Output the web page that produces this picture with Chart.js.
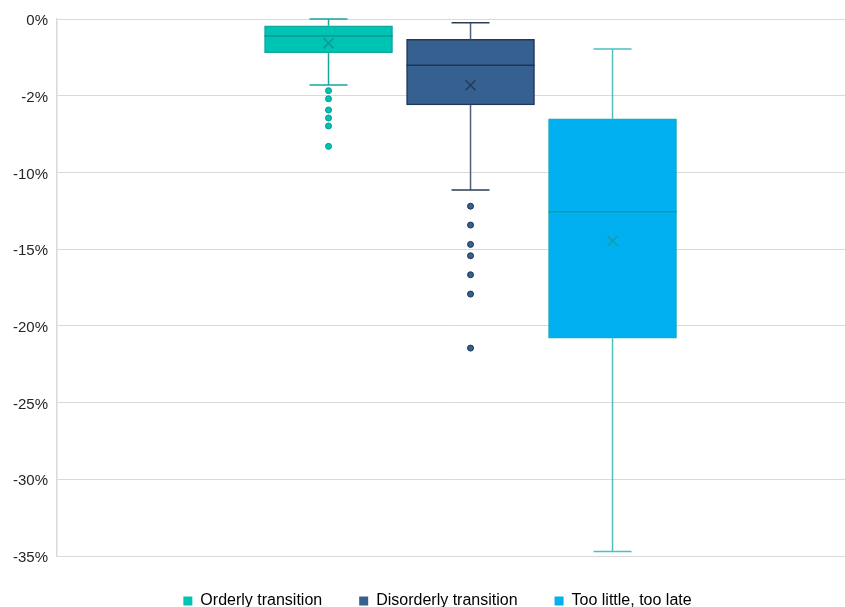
<!DOCTYPE html>
<html>
<head>
<meta charset="utf-8">
<script src="https://cdn.jsdelivr.net/npm/chart.js@4.4.1/dist/chart.umd.min.js"></script>
<style>
  html, body { margin: 0; padding: 0; background: #fff; }
  #wrap { width: 845px; height: 607px; }
</style>
</head>
<body>
<div id="wrap"><canvas id="boxChart"></canvas></div>
<script>
// values in percent
const seriesNames = ['Orderly transition', 'Disorderly transition', 'Too little, too late'];
const seriesPos = [1, 2, 3];
const whiskerMax = [0.0, -0.24, -1.96];
const q3Values = [-0.44, -1.33, -6.5];
const medianValues = [-1.1, -3.02, -12.56];
const meanValues = [-1.58, -4.32, -14.47];
const q1Values = [-2.2, -5.6, -20.8];
const whiskerMin = [-4.3, -11.15, -34.7];
const outlierOrderly = [-4.67, -5.2, -5.93, -6.45, -6.97, -8.3];
const outlierDisorderly = [-12.2, -13.43, -14.69, -15.43, -16.67, -17.93, -21.45];
const outlierTooLate = [];
const yTicks = [0, -5, -10, -15, -20, -25, -30, -35];
const yTickLabels = ['0%', '-2%', '-10%', '-15%', '-20%', '-25%', '-30%', '-35%'];

const fillColors = ['#00C4B3', '#36608F', '#00B0F0'];
const borderColors = ['#0FA89D', '#22395A', '#1AABB5'];
const medianColors = ['#0E978D', '#1E3452', '#0E9AA6'];
const whiskerColors = ['#1AA59B', '#4F6079', '#4EC0BF'];
const meanColors = ['#0E978D', '#22395A', '#169E9F'];

const outlierSets = [outlierOrderly, outlierDisorderly, outlierTooLate];

const boxExtras = {
  id: 'boxExtras',
  afterLayout(chart) {
    // legend sits a little right of centre in the original
    chart.legend.left += 15;
    chart.legend.right += 15;
  },
  afterDatasetsDraw(chart) {
    const { ctx, scales: { x, y } } = chart;
    seriesPos.forEach((pos, i) => {
      const cx = x.getPixelForValue(pos);
      const bar = chart.getDatasetMeta(i).data[0];
      const half = bar.width / 2;
      const capHalf = 19;
      ctx.save();
      ctx.lineWidth = 1.5;
      ctx.strokeStyle = whiskerColors[i];
      ctx.beginPath();
      ctx.moveTo(cx, y.getPixelForValue(q3Values[i]));
      ctx.lineTo(cx, y.getPixelForValue(whiskerMax[i]));
      ctx.moveTo(cx, y.getPixelForValue(q1Values[i]));
      ctx.lineTo(cx, y.getPixelForValue(whiskerMin[i]));
      ctx.stroke();

      ctx.strokeStyle = i === 1 ? '#2C3E55' : whiskerColors[i];
      ctx.beginPath();
      const top = y.getPixelForValue(whiskerMax[i]);
      const bottom = y.getPixelForValue(whiskerMin[i]);
      ctx.moveTo(cx - capHalf, top);
      ctx.lineTo(cx + capHalf, top);
      ctx.moveTo(cx - capHalf, bottom);
      ctx.lineTo(cx + capHalf, bottom);
      ctx.stroke();

      ctx.strokeStyle = medianColors[i];
      ctx.beginPath();
      const my = y.getPixelForValue(medianValues[i]);
      ctx.moveTo(cx - half, my);
      ctx.lineTo(cx + half, my);
      ctx.stroke();
      ctx.restore();
    });
  }
};

const boxDatasets = seriesNames.map((name, i) => ({
  type: 'bar',
  label: name,
  data: [{ x: seriesPos[i], y: [q1Values[i], q3Values[i]] }],
  backgroundColor: fillColors[i],
  borderColor: borderColors[i],
  borderWidth: 1.5,
  borderSkipped: false,
  barThickness: 128,
  grouped: false,
  order: 3
}));

const meanDatasets = seriesNames.map((name, i) => ({
  type: 'scatter',
  label: name + ' mean',
  data: [{ x: seriesPos[i], y: meanValues[i] }],
  pointStyle: 'crossRot',
  pointRadius: 7,
  borderColor: meanColors[i],
  borderWidth: 1.4,
  order: 1
}));

const outlierDatasets = seriesNames.map((name, i) => ({
  type: 'scatter',
  label: name + ' outliers',
  data: outlierSets[i].map(v => ({ x: seriesPos[i], y: v })),
  pointStyle: 'circle',
  pointRadius: 3,
  backgroundColor: fillColors[i],
  borderColor: medianColors[i],
  borderWidth: 1,
  order: 1
}));

new Chart(document.getElementById('boxChart'), {
  type: 'bar',
  data: { datasets: [...boxDatasets, ...meanDatasets, ...outlierDatasets] },
  options: {
    responsive: true,
    maintainAspectRatio: false,
    animation: false,
    layout: { autoPadding: false, padding: { top: 19, right: 0, left: 0, bottom: -12 } },
    plugins: {
      tooltip: { enabled: false },
      legend: {
        position: 'bottom',
        labels: {
          boxWidth: 9,
          boxHeight: 9,
          padding: 37,
          color: '#262626',
          font: { family: 'Liberation Sans, Arial, sans-serif', size: 16 },
          generateLabels: () => seriesNames.map((name, i) => ({
            text: name,
            fillStyle: fillColors[i],
            strokeStyle: fillColors[i],
            lineWidth: 0,
            datasetIndex: i
          }))
        }
      }
    },
    scales: {
      x: {
        type: 'linear',
        display: false,
        offset: false,
        min: -0.912,
        max: 4.637
      },
      y: {
        min: -35,
        max: 0,
        afterFit: scale => { scale.width = 57; },
        afterBuildTicks: scale => { scale.ticks = yTicks.map(v => ({ value: v })); },
        ticks: {
          padding: 9,
          labelOffset: 2,
          color: '#262626',
          font: { family: 'Liberation Sans, Arial, sans-serif', size: 15 },
          callback: value => yTickLabels[yTicks.indexOf(value)]
        },
        grid: { color: '#D9D9D9', lineWidth: 1, drawTicks: false },
        border: { color: '#D9D9D9', width: 1.5 }
      }
    }
  },
  plugins: [boxExtras]
});
</script>
</body>
</html>
